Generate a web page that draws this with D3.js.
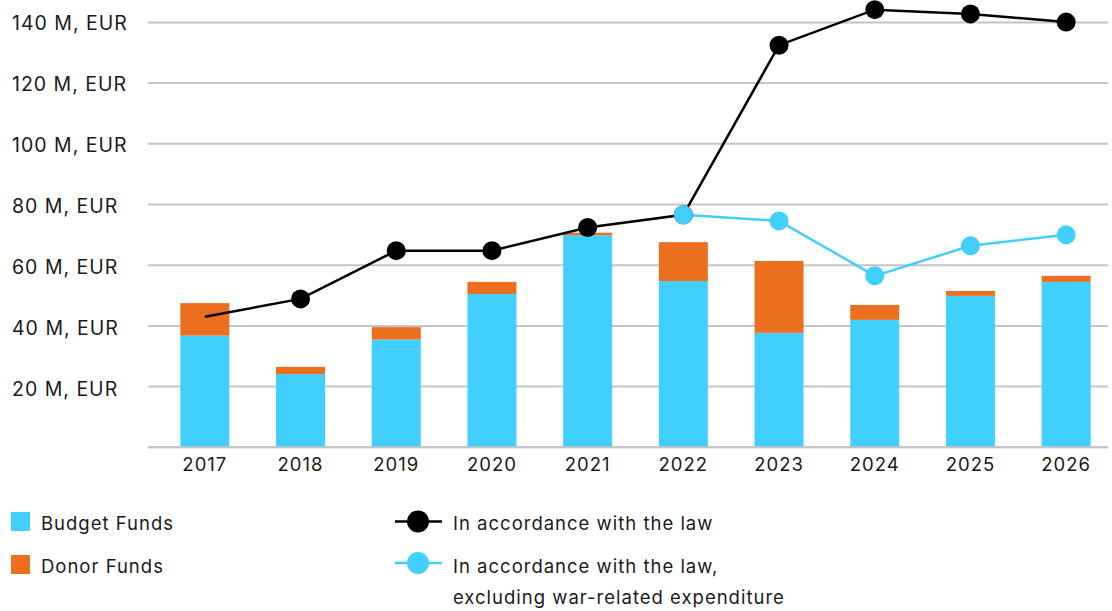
<!DOCTYPE html>
<html>
<head>
<meta charset="utf-8">
<script src="https://cdn.jsdelivr.net/npm/d3@7"></script>
<style>
  body { margin: 0; background: #fff; }
  svg text { font-family: Inter, "Noto Sans", sans-serif; fill: #1a1a1a; letter-spacing: 1px; }
</style>
</head>
<body>
<svg width="1112" height="611"></svg>
<script>
// chart data (M EUR)
var years = ["2017", "2018", "2019", "2020", "2021", "2022", "2023", "2024", "2025", "2026"];
var budgetFunds = [36.8, 24.1, 35.5, 50.5, 69.9, 54.8, 37.7, 42.0, 49.9, 54.5];
var donorFunds = [10.7, 2.4, 4.1, 4.0, 0.8, 12.8, 23.7, 4.9, 1.6, 2.0];
var lawTotal = [43.0, 48.9, 64.8, 64.8, 72.4, 76.6, 132.5, 144.2, 142.8, 140.1];
var lawNoWar = [null, null, null, null, null, 76.6, 74.6, 56.5, 66.4, 70.0];
var yTicks = [20, 40, 60, 80, 100, 120, 140];

var blue = "#41cfff", orange = "#ec6e1f";

var svg = d3.select("svg");

var x = d3.scaleBand()
    .domain(years)
    .range([157, 1114])
    .paddingInner(0.488)
    .paddingOuter(0.244);

var y = d3.scaleLinear()
    .domain([0, 140])
    .range([447.3, 22.4]);

// gridlines
svg.append("g").selectAll("line")
    .data([0].concat(yTicks))
  .enter().append("line")
    .attr("x1", 148).attr("x2", 1108)
    .attr("y1", function(d) { return y(d); })
    .attr("y2", function(d) { return y(d); })
    .attr("stroke", "#c4c4c4")
    .attr("stroke-width", 2);

// y labels
svg.append("g").selectAll("text")
    .data(yTicks)
  .enter().append("text")
    .attr("x", 12)
    .attr("y", function(d) { return y(d) + 2 + (140 - d) * 0.02; })
    .attr("dominant-baseline", "middle")
    .style("font-size", "19.5px")
    .text(function(d) { return d + " M, EUR"; });

// stacked bars
var rows = years.map(function(yr, i) {
  return { year: yr, budget: budgetFunds[i], donor: donorFunds[i] };
});
var stack = d3.stack().keys(["budget", "donor"]);
var colors = { budget: blue, donor: orange };

svg.append("g").selectAll("g")
    .data(stack(rows))
  .enter().append("g")
    .attr("fill", function(d) { return colors[d.key]; })
  .selectAll("rect")
    .data(function(d) { return d; })
  .enter().append("rect")
    .attr("x", function(d) { return x(d.data.year); })
    .attr("width", x.bandwidth())
    .attr("y", function(d) { return y(d[1]); })
    .attr("height", function(d) { return y(d[0]) - y(d[1]); });

// baseline over bars
svg.append("line")
    .attr("x1", 148).attr("x2", 1108)
    .attr("y1", y(0)).attr("y2", y(0))
    .attr("stroke", "#c4c4c4")
    .attr("stroke-width", 2);

// x labels
svg.append("g").selectAll("text")
    .data(years)
  .enter().append("text")
    .attr("x", function(d) { return x(d) + x.bandwidth() / 2; })
    .attr("y", 466)
    .attr("text-anchor", "middle")
    .attr("dominant-baseline", "middle")
    .style("font-size", "18.5px")
    .text(function(d) { return d; });

var cx = function(i) { return x(years[i]) + x.bandwidth() / 2; };

var line = d3.line()
    .defined(function(d) { return d != null; })
    .x(function(d, i) { return cx(i); })
    .y(function(d) { return y(d); });

// black line
svg.append("path")
    .datum(lawTotal)
    .attr("d", line)
    .attr("fill", "none")
    .attr("stroke", "#000")
    .attr("stroke-width", 2.5);

// blue line
svg.append("path")
    .datum(lawNoWar)
    .attr("d", line)
    .attr("fill", "none")
    .attr("stroke", blue)
    .attr("stroke-width", 2.5);

// markers (first point of black line has none)
svg.append("g").selectAll("circle")
    .data(lawTotal.map(function(v, i) { return { v: v, i: i }; }).filter(function(d) { return d.i > 0; }))
  .enter().append("circle")
    .attr("cx", function(d) { return cx(d.i); })
    .attr("cy", function(d) { return y(d.v); })
    .attr("r", 9.5)
    .attr("fill", "#000");

svg.append("g").selectAll("circle")
    .data(lawNoWar.map(function(v, i) { return { v: v, i: i }; }).filter(function(d) { return d.v != null; }))
  .enter().append("circle")
    .attr("cx", function(d) { return cx(d.i); })
    .attr("cy", function(d) { return y(d.v); })
    .attr("r", 9.5)
    .attr("fill", blue);

// legend
var legend = svg.append("g");
legend.append("rect").attr("x", 11).attr("y", 512).attr("width", 19).attr("height", 19).attr("fill", blue);
legend.append("text").attr("x", 41).attr("y", 525).attr("dominant-baseline", "middle")
    .style("font-size", "18.5px").text("Budget Funds");
legend.append("rect").attr("x", 11).attr("y", 555).attr("width", 19).attr("height", 19).attr("fill", orange);
legend.append("text").attr("x", 41).attr("y", 568).attr("dominant-baseline", "middle")
    .style("font-size", "18.5px").text("Donor Funds");

legend.append("line").attr("x1", 395).attr("x2", 442).attr("y1", 521.5).attr("y2", 521.5)
    .attr("stroke", "#000").attr("stroke-width", 2.5);
legend.append("circle").attr("cx", 418).attr("cy", 521.5).attr("r", 11).attr("fill", "#000");
legend.append("text").attr("x", 453).attr("y", 525).attr("dominant-baseline", "middle")
    .style("font-size", "18.5px").text("In accordance with the law");

legend.append("line").attr("x1", 395).attr("x2", 442).attr("y1", 563).attr("y2", 563)
    .attr("stroke", blue).attr("stroke-width", 2.5);
legend.append("circle").attr("cx", 418).attr("cy", 563).attr("r", 11).attr("fill", blue);
legend.append("text").attr("x", 453).attr("y", 568).attr("dominant-baseline", "middle")
    .style("font-size", "18.5px").text("In accordance with the law,");
legend.append("text").attr("x", 453).attr("y", 599).attr("dominant-baseline", "middle")
    .style("font-size", "18.5px").text("excluding war-related expenditure");
</script>
</body>
</html>
